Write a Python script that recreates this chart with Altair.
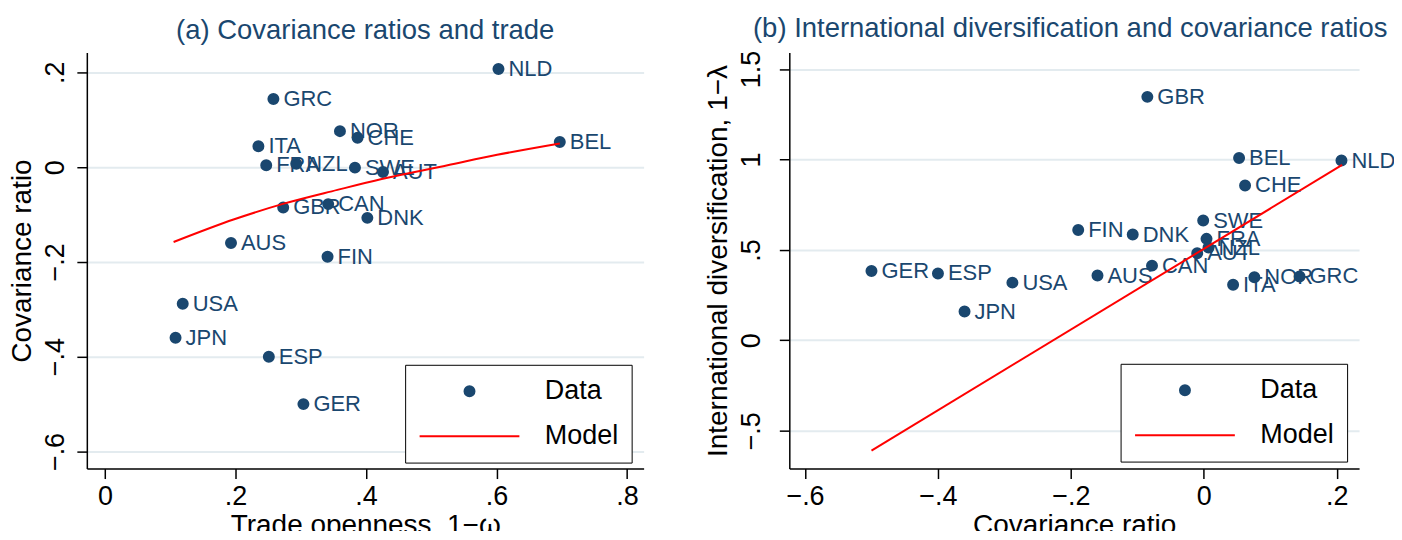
import altair as alt
import pandas as pd

# ---------------- data ----------------
countries = ["NLD", "BEL", "GRC", "NOR", "CHE", "ITA", "FRA", "NZL", "SWE", "AUT",
             "GBR", "CAN", "DNK", "AUS", "FIN", "USA", "JPN", "ESP", "GER"]
trade_openness = [0.603, 0.697, 0.258, 0.360, 0.387, 0.235, 0.247, 0.293, 0.383, 0.426,
                  0.273, 0.342, 0.402, 0.193, 0.341, 0.119, 0.108, 0.251, 0.304]
cov_ratio = [0.207, 0.053, 0.144, 0.076, 0.062, 0.044, 0.004, 0.007, -0.001, -0.010,
             -0.085, -0.078, -0.107, -0.160, -0.189, -0.288, -0.360, -0.400, -0.500]
intl_div = [0.994, 1.008, 0.353, 0.349, 0.856, 0.307, 0.561, 0.513, 0.662, 0.482,
            1.346, 0.413, 0.585, 0.358, 0.610, 0.319, 0.159, 0.370, 0.383]

model_a_x = [0.105, 0.198, 0.274, 0.356, 0.424, 0.525, 0.601, 0.697]
model_a_y = [-0.158, -0.110, -0.077, -0.048, -0.025, 0.004, 0.026, 0.050]
model_b_x = [-0.500, 0.208]
model_b_y = [-0.610, 0.970]

xticks_a = [0, 0.2, 0.4, 0.6, 0.8]
yticks_a = [-0.6, -0.4, -0.2, 0, 0.2]
xticks_b = [-0.6, -0.4, -0.2, 0, 0.2]
yticks_b = [-0.5, 0, 0.5, 1, 1.5]

series_names = ["Data", "Model"]

# ---------------- styling ----------------
NAVY = "#1a476f"
RED = "#ff0000"
FONT = "Liberation Sans"
GRID = "#e3ebef"
SYM = 576  # symbol area -> path scale 12
CIRCLE = "M -0.4167 0 A 0.4167 0.4167 0 1 0 0.4167 0 A 0.4167 0.4167 0 1 0 -0.4167 0 Z"
LINE = "M -4.1667 0 L 4.1667 0"
LABEL_EXPR = "replace(format(datum.value, '~g'), '0.', '.')"


def panel(xs, ys, mx, my, xdom, ydom, xt, yt, xtitle, ytitle, title, width,
          legx, legy, title_offset, title_dx, ylabpad):
    pts = pd.DataFrame({"country": countries, "x": xs, "y": ys, "series": "Data"})
    mod = pd.DataFrame({"x": mx, "y": my})
    xs_ = alt.Scale(domain=xdom, nice=False, zero=False)
    ys_ = alt.Scale(domain=ydom, nice=False, zero=False)
    xax = alt.Axis(values=xt, labelExpr=LABEL_EXPR, title=xtitle, grid=False)
    yax = alt.Axis(values=yt, labelExpr=LABEL_EXPR, title=ytitle, grid=True,
                   labelAngle=270, labelAlign="center", labelBaseline="bottom",
                   labelPadding=ylabpad)
    X = alt.X("x:Q", scale=xs_, axis=xax)
    Y = alt.Y("y:Q", scale=ys_, axis=yax)
    leg = alt.Legend(title=None, orient="none", legendX=legx, legendY=legy,
                     direction="vertical", strokeColor="black", fillColor="white",
                     padding=13, symbolSize=SYM, symbolOffset=38, labelOffset=62,
                     rowPadding=17, labelFontSize=27, labelFont=FONT,
                     labelColor="black", symbolStrokeWidth=2)
    points = alt.Chart(pts).mark_point(filled=True, size=SYM, strokeWidth=2, opacity=1).encode(
        x=X, y=Y,
        fill=alt.Fill("series:N", scale=alt.Scale(domain=series_names, range=[NAVY, RED]), legend=leg),
        stroke=alt.Stroke("series:N", scale=alt.Scale(domain=series_names, range=[NAVY, RED]), legend=leg),
        shape=alt.Shape("series:N", scale=alt.Scale(domain=series_names, range=[CIRCLE, LINE]), legend=leg),
    )
    labels = alt.Chart(pts).mark_text(align="left", baseline="middle", dx=10, fontSize=22,
                                      font=FONT, color=NAVY).encode(x=X, y=Y, text="country:N")
    line = alt.Chart(mod).mark_line(color=RED, strokeWidth=2, interpolate="monotone").encode(x=X, y=Y)
    return alt.layer(points, labels, line).properties(
        width=width, height=417,
        title=alt.TitleParams(title, anchor="middle", frame="group", baseline="alphabetic",
                              offset=title_offset, dx=title_dx),
    )


left = panel(trade_openness, cov_ratio, model_a_x, model_a_y,
             [-0.028, 0.8255], [-0.636, 0.242], xticks_a, yticks_a,
             "Trade openness, 1\u2212\u03c9", "Covariance ratio",
             "(a) Covariance ratios and trade", 558, 319, 313, -14, 0, 7)
right = panel(cov_ratio, intl_div, model_b_x, model_b_y,
              [-0.6236, 0.2335], [-0.709, 1.5915], xticks_b, yticks_b,
              "Covariance ratio", "International diversification, 1\u2212\u03bb",
              "(b) International diversification and covariance ratios", 571, 332, 312, -14, -4, 14)

chart = alt.hconcat(left, right, spacing=61).resolve_scale(
    x="independent", y="independent", fill="independent", stroke="independent", shape="independent"
).configure_view(stroke=None).configure_axis(
    domainColor="black", domainWidth=1.5, tickColor="black", tickWidth=1.5, tickSize=10,
    labelFont=FONT, labelFontSize=27, labelColor="black", labelPadding=5,
    titleFont=FONT, titleFontSize=28, titleColor="black", titleFontWeight="normal",
    titlePadding=2, gridColor=GRID, gridWidth=2,
).configure_axisY(titlePadding=5).configure_title(
    font=FONT, fontSize=27.5, color=NAVY, fontWeight="normal"
).properties(padding={"left": 1, "top": 6, "right": -2, "bottom": -9})

chart.save("out.html", embed_options={"renderer": "svg", "actions": False})
